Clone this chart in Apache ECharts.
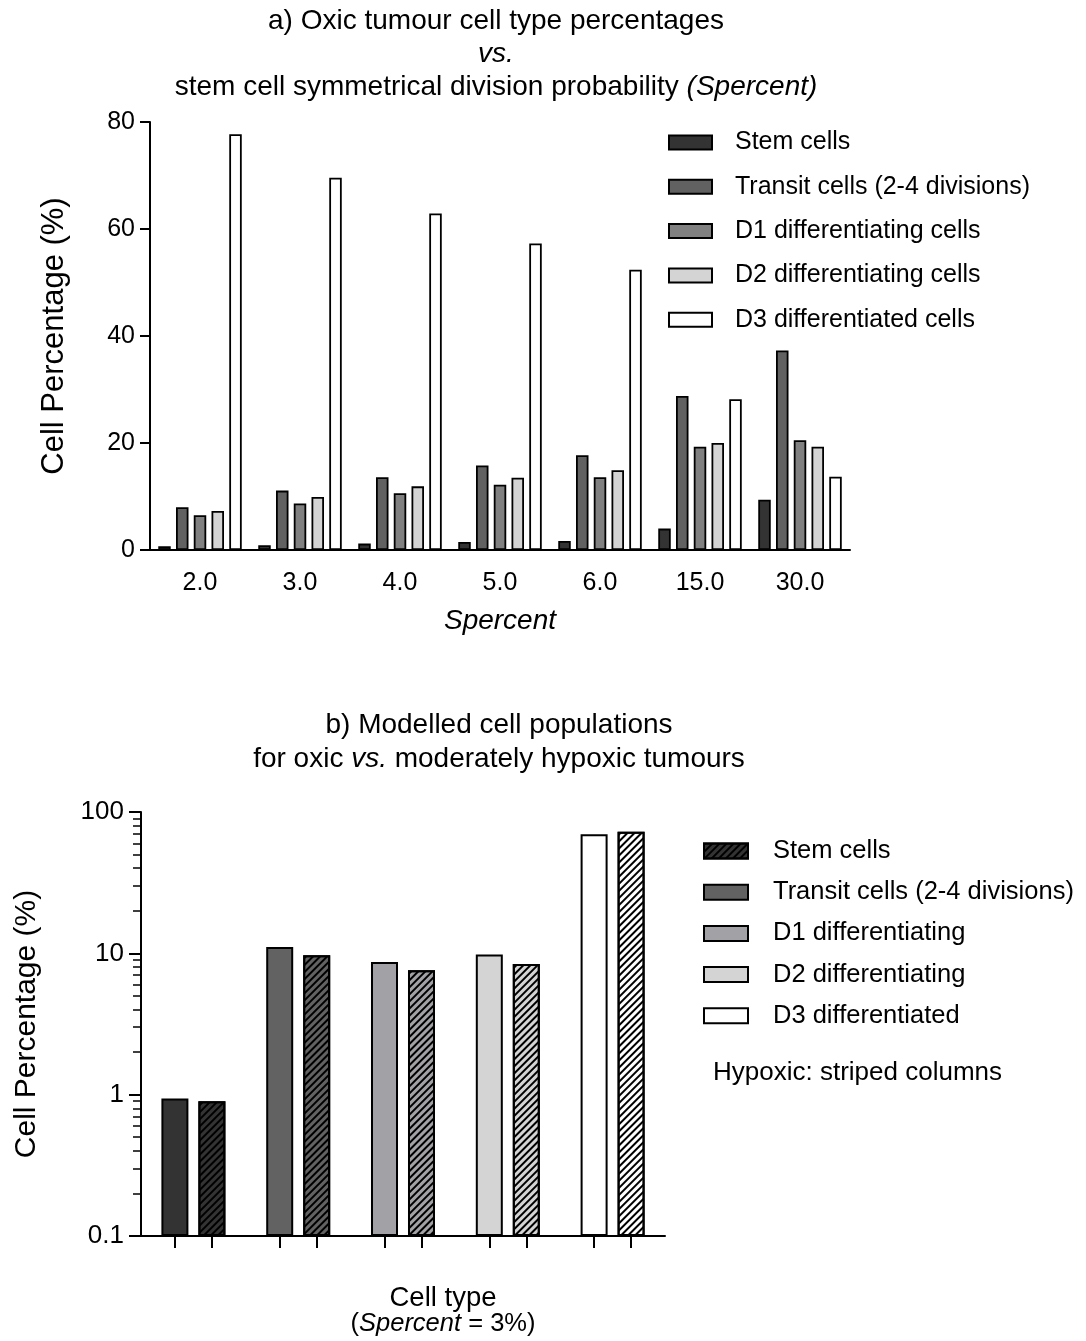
<!DOCTYPE html>
<html>
<head>
<meta charset="utf-8">
<title>Cell populations</title>
<script src="https://cdn.jsdelivr.net/npm/echarts@6/dist/echarts.min.js"></script>
<style>
  html, body { margin: 0; padding: 0; background: #fff; }
  #chart-a { position: absolute; left: 0; top: 0; width: 1086px; height: 660px; }
  #chart-b { position: absolute; left: 0; top: 660px; width: 1086px; height: 681px; }
</style>
</head>
<body>
<div id="chart-a"></div>
<div id="chart-b"></div>
<script>
// a) oxic tumour, cell type % vs Spercent
var spercent = ['2.0', '3.0', '4.0', '5.0', '6.0', '15.0', '30.0'];
var stemCells = [0.7, 0.9, 1.2, 1.5, 1.7, 4.0, 9.4];
var transitCells = [8.0, 11.1, 13.6, 15.8, 17.7, 28.8, 37.3];
var d1Cells = [6.5, 8.7, 10.6, 12.2, 13.6, 19.3, 20.5];
var d2Cells = [7.3, 9.9, 11.9, 13.5, 14.9, 20.0, 19.3];
var d3Cells = [77.7, 69.6, 62.9, 57.3, 52.4, 28.2, 13.7];
var topNames = ['Stem cells', 'Transit cells (2-4 divisions)', 'D1 differentiating cells',
                'D2 differentiating cells', 'D3 differentiated cells'];

// b) oxic vs hypoxic at Spercent = 3%
var cellTypes = ['Stem', 'Transit', 'D1', 'D2', 'D3'];
var oxicValues = [0.94, 11.1, 8.7, 9.8, 69.5];
var hypoxicValues = [0.9, 9.7, 7.6, 8.4, 72.6];
var bottomNames = ['Stem cells', 'Transit cells (2-4 divisions)', 'D1 differentiating',
                   'D2 differentiating', 'D3 differentiated'];

var FONT = '"Liberation Sans", Arial, sans-serif';
var BLACK = '#000';

function txt(size, extra) {
  var s = { fontSize: size, fontFamily: FONT, color: BLACK, fontWeight: 'normal' };
  for (var k in extra) s[k] = extra[k];
  return s;
}

// ---------- chart a ----------
var topColors = ['#333333', '#616161', '#808080', '#d4d4d4', '#ffffff'];
var topData = [stemCells, transitCells, d1Cells, d2Cells, d3Cells];

var chartA = echarts.init(document.getElementById('chart-a'));
chartA.setOption({
  animation: false,
  title: {
    text: '{n|a) Oxic tumour cell type percentages}\n{i|vs.}\n{n|stem cell symmetrical division probability }{i|(Spercent)}',
    left: 496,
    top: 5,
    textAlign: 'center',
    padding: 0,
    textStyle: {
      fontWeight: 'normal',
      rich: {
        n: txt(28, { lineHeight: 33 }),
        i: txt(28, { lineHeight: 33, fontStyle: 'italic' })
      }
    }
  },
  legend: {
    orient: 'vertical',
    left: 668,
    top: 130,
    padding: 0,
    itemWidth: 43,
    itemHeight: 14,
    itemGap: 19.3,
    icon: 'rect',
    selectedMode: false,
    data: topNames,
    textStyle: txt(25, { lineHeight: 25, padding: [0, 0, 0, 18] })
  },
  grid: { left: 150, right: 236, top: 122, bottom: 110, outerBoundsMode: 'none' },
  xAxis: {
    type: 'category',
    data: spercent,
    axisLine: { lineStyle: { color: BLACK, width: 2 } },
    axisTick: { alignWithLabel: true, length: 10, lineStyle: { color: BLACK, width: 2 } },
    axisLabel: txt(25, { margin: 21 }),
    name: 'Spercent',
    nameLocation: 'middle',
    nameGap: 57,
    nameTextStyle: txt(28, { fontStyle: 'italic' })
  },
  yAxis: {
    type: 'value',
    min: 0,
    max: 80,
    interval: 20,
    splitLine: { show: false },
    axisLine: { show: true, lineStyle: { color: BLACK, width: 2 } },
    axisTick: { show: true, length: 10, lineStyle: { color: BLACK, width: 2 } },
    axisLabel: txt(25, { margin: 15 }),
    name: 'Cell Percentage (%)',
    nameLocation: 'middle',
    nameGap: 80,
    nameTextStyle: txt(31)
  },
  series: topNames.map(function (name, i) {
    return {
      name: name,
      type: 'bar',
      data: topData[i],
      barWidth: 12.5,
      barGap: '42%',
      itemStyle: { color: topColors[i], borderColor: BLACK, borderWidth: 1.8 }
    };
  })
});

// ---------- chart b ----------
var bottomColors = ['#333333', '#626262', '#a2a2a6', '#d4d4d4', '#ffffff'];
var hatch = {
  symbol: 'rect',
  symbolSize: 1,
  color: BLACK,
  dashArrayX: [1, 0],
  dashArrayY: [1.5, 2.5],
  rotation: -Math.PI / 4
};

var gridB = { left: 141, right: 421, top: 152, bottom: 105 };
var barW = 27, pairGap = 10;
var catW = (1086 - gridB.left - gridB.right) / cellTypes.length;
var tickOffset = (barW + pairGap) / 2 / catW;
// ticks under each column of a pair
var barTicks = [];
cellTypes.forEach(function (c, i) {
  barTicks.push(i + 0.5 - tickOffset, i + 0.5 + tickOffset);
});
// minor log ticks 2..9 in every decade
var minorTicks = [];
[0.1, 1, 10].forEach(function (d) {
  for (var k = 2; k <= 9; k++) minorTicks.push(+(k * d).toFixed(2));
});

var chartB = echarts.init(document.getElementById('chart-b'));
chartB.setOption({
  animation: false,
  title: [{
    text: '{n|b) Modelled cell populations}\n{n|for oxic }{i|vs.}{n| moderately hypoxic tumours}',
    left: 499,
    top: 48,
    textAlign: 'center',
    padding: 0,
    textStyle: {
      fontWeight: 'normal',
      rich: {
        n: txt(28, { lineHeight: 34 }),
        i: txt(28, { lineHeight: 34, fontStyle: 'italic' })
      }
    }
  }, {
    text: 'Hypoxic: striped columns',
    left: 713,
    top: 400,
    padding: 0,
    textStyle: txt(26)
  }],
  legend: {
    orient: 'vertical',
    left: 703,
    top: 178,
    padding: 0,
    itemWidth: 44,
    itemHeight: 15,
    itemGap: 15.2,
    icon: 'rect',
    selectedMode: false,
    data: bottomNames,
    textStyle: txt(25.5, { lineHeight: 25, padding: [0, 0, 0, 20] })
  },
  grid: Object.assign({ outerBoundsMode: 'none' }, gridB),
  xAxis: [{
    type: 'category',
    data: cellTypes,
    axisLine: { lineStyle: { color: BLACK, width: 2 } },
    axisTick: { show: false },
    axisLabel: { show: false },
    name: '{n|Cell type}\n{s|(}{i|Spercent}{s| = 3%)}',
    nameLocation: 'middle',
    nameGap: 49,
    nameTextStyle: {
      padding: [0, 0, 0, 80],
      rich: {
        n: txt(27.5, { lineHeight: 26 }),
        s: txt(25.5, { lineHeight: 26 }),
        i: txt(25.5, { lineHeight: 26, fontStyle: 'italic' })
      }
    }
  }, {
    type: 'value',
    min: 0,
    max: cellTypes.length,
    position: 'bottom',
    axisLine: { show: false },
    axisLabel: { show: false },
    splitLine: { show: false },
    axisTick: { show: true, length: 12, customValues: barTicks, lineStyle: { color: BLACK, width: 2 } }
  }, {
    type: 'category',
    show: false,
    data: cellTypes
  }],
  yAxis: [{
    type: 'log',
    logBase: 10,
    min: 0.1,
    max: 100,
    startValue: 0.1,
    splitLine: { show: false },
    axisLine: { show: true, lineStyle: { color: BLACK, width: 2 } },
    axisTick: { show: true, length: 12, lineStyle: { color: BLACK, width: 2 } },
    axisLabel: txt(26, { margin: 17 }),
    name: 'Cell Percentage (%)',
    nameLocation: 'middle',
    nameGap: 99,
    nameTextStyle: txt(30)
  }, {
    type: 'log',
    logBase: 10,
    min: 0.1,
    max: 100,
    position: 'left',
    axisLine: { show: false },
    axisLabel: { show: false },
    splitLine: { show: false },
    axisTick: { show: true, length: 8, customValues: minorTicks, lineStyle: { color: BLACK, width: 1.5 } }
  }, {
    type: 'value',
    show: false
  }],
  series: [{
    name: 'Oxic',
    type: 'bar',
    barWidth: barW,
    barGap: (pairGap / barW * 100).toFixed(0) + '%',
    data: oxicValues.map(function (v, i) {
      return { value: v, itemStyle: { color: bottomColors[i] } };
    }),
    itemStyle: { borderColor: BLACK, borderWidth: 2 }
  }, {
    name: 'Hypoxic',
    type: 'bar',
    barWidth: barW,
    data: hypoxicValues.map(function (v, i) {
      return { value: v, itemStyle: { color: bottomColors[i], decal: hatch } };
    }),
    itemStyle: { borderColor: BLACK, borderWidth: 2 }
  }].concat(bottomNames.map(function (name, i) {
    // legend entries only; the stem entry shows the hatched style
    return {
      name: name,
      type: 'bar',
      xAxisIndex: 2,
      yAxisIndex: 2,
      data: [],
      itemStyle: i === 0
        ? { color: bottomColors[i], borderColor: BLACK, borderWidth: 1.5, decal: hatch }
        : { color: bottomColors[i], borderColor: BLACK, borderWidth: 1.5 }
    };
  }))
});
</script>
</body>
</html>
